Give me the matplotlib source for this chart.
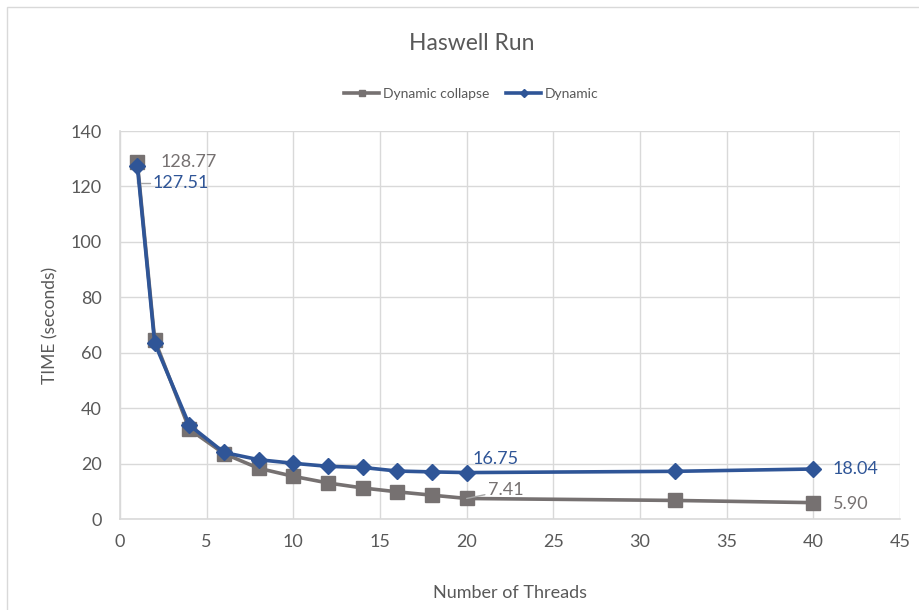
import matplotlib.pyplot as plt
from matplotlib.lines import Line2D
from matplotlib.patches import Rectangle

plt.rcParams['font.family'] = ['Lato', 'DejaVu Sans']

threads = [1, 2, 4, 6, 8, 10, 12, 14, 16, 18, 20, 32, 40]
dynamic_collapse = [128.77, 64.7, 32.4, 23.6, 18.3, 15.4, 13.0, 11.2, 9.8, 8.6, 7.41, 6.7, 5.90]
dynamic = [127.51, 63.5, 33.9, 24.0, 21.4, 20.1, 19.0, 18.6, 17.3, 17.0, 16.75, 17.2, 18.04]

GRAY = '#767171'
BLUE = '#2F5597'
TEXT = '#595959'

fig = plt.figure(figsize=(9.19, 6.10), dpi=100)
ax = fig.add_axes([120 / 919, 1 - 519 / 610, 780 / 919, 388 / 610])

# chart frame
fig.patches.append(Rectangle((7 / 919, -0.1), 1.0, 1 - 7 / 610 + 0.1, transform=fig.transFigure,
                             fill=False, edgecolor='#D9D9D9', linewidth=1))

ax.plot(threads, dynamic_collapse, color=GRAY, linewidth=2.6, marker='s', markersize=10,
        zorder=3)
ax.plot(threads, dynamic, color=BLUE, linewidth=2.6, marker='D', markersize=8, zorder=4)

ax.set_xlim(0, 45)
ax.set_ylim(0, 140)
ax.set_xticks(range(0, 46, 5))
ax.set_yticks(range(0, 141, 20))
ax.grid(True, color='#D9D9D9', linewidth=1)
ax.set_axisbelow(True)
for s in ['top', 'right']:
    ax.spines[s].set_visible(False)
for s in ['left', 'bottom']:
    ax.spines[s].set_color('#D9D9D9')
    ax.spines[s].set_linewidth(1.2)
ax.tick_params(length=0, labelsize=13, labelcolor=TEXT)
ax.tick_params(axis='x', pad=11)
ax.tick_params(axis='y', pad=13)

ax.set_xlabel('Number of Threads', fontsize=13, color=TEXT, labelpad=25)
ax.set_ylabel('TIME (seconds)', fontsize=12.5, color=TEXT, labelpad=9)
fig.text(0.5 + 12 / 919, 1 - 43 / 610, 'Haswell Run', ha='center', va='center',
         fontsize=16.5, color=TEXT)

handles = [
    Line2D([], [], color=GRAY, linewidth=2.6, marker='s', markersize=5),
    Line2D([], [], color=BLUE, linewidth=2.6, marker='D', markersize=4),
]
fig.legend(handles, ['Dynamic collapse', 'Dynamic'], loc='center',
           bbox_to_anchor=(0.5 + 12 / 919, 1 - 94 / 610), ncol=2, frameon=False,
           fontsize=10, labelcolor=TEXT, handlelength=2.5, columnspacing=1.2,
           handletextpad=0.3)

# data labels
lbl = dict(textcoords='offset pixels', fontsize=13, va='center', ha='left')
ax.annotate(f'{dynamic_collapse[0]:.2f}', (threads[0], dynamic_collapse[0]), xytext=(23, 0),
            color=GRAY, **lbl)
ax.annotate(f'{dynamic[0]:.2f}', (threads[0], dynamic[0]), xytext=(15, -17), color=BLUE,
            arrowprops=dict(arrowstyle='-', color='#A6A6A6', linewidth=1,
                            shrinkA=0, shrinkB=0, connectionstyle='angle,angleA=0,angleB=90'),
            **lbl)
ax.annotate(f'{dynamic[10]:.2f}', (threads[10], dynamic[10]), xytext=(6, 14), color=BLUE,
            **lbl)
ax.annotate(f'{dynamic_collapse[10]:.2f}', (threads[10], dynamic_collapse[10]), xytext=(21, 8),
            color=GRAY,
            arrowprops=dict(arrowstyle='-', color='#A6A6A6', linewidth=1,
                            shrinkA=0, shrinkB=0),
            **lbl)
ax.annotate(f'{dynamic[-1]:.2f}', (threads[-1], dynamic[-1]), xytext=(19, 0), color=BLUE,
            **lbl)
ax.annotate(f'{dynamic_collapse[-1]:.2f}', (threads[-1], dynamic_collapse[-1]), xytext=(20, -1),
            color=GRAY, **lbl)

fig.savefig('out.png', dpi=100, facecolor='white')
